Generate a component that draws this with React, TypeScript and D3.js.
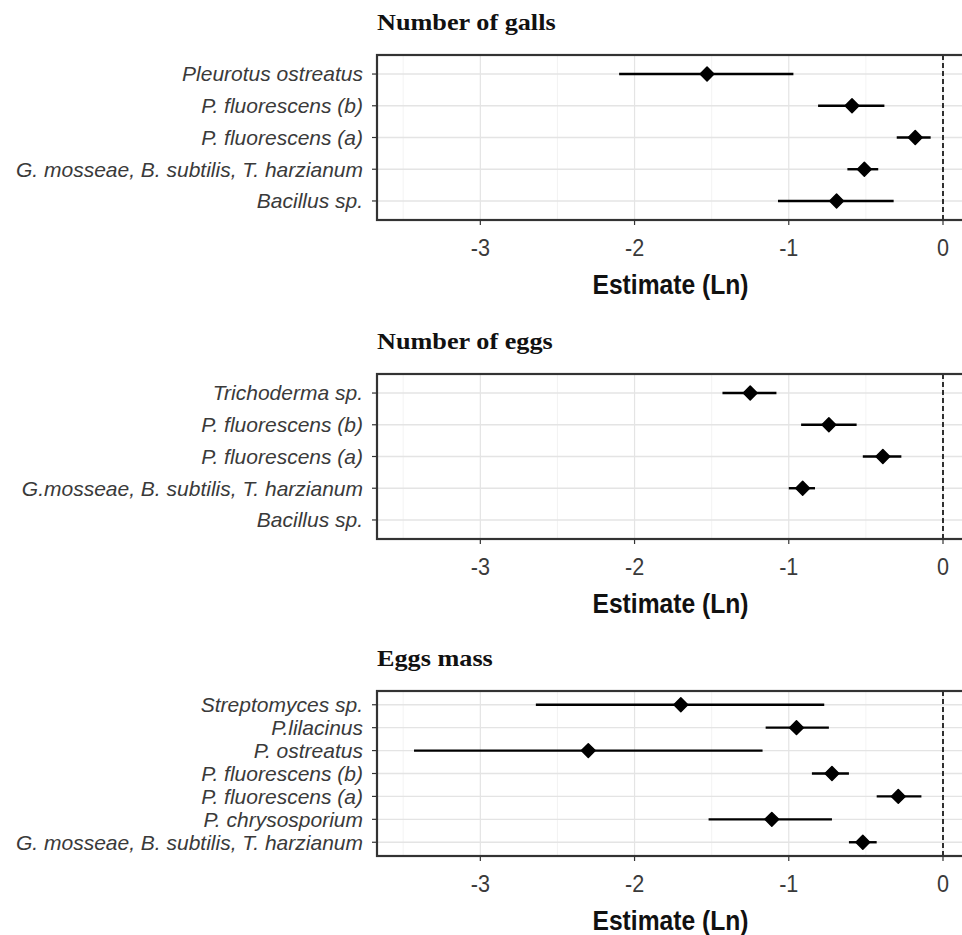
import * as d3 from 'd3';

// panel titles
const titles = ['Number of galls', 'Number of eggs', 'Eggs mass'];

// Number of galls
const gallsLabels = [
  'Pleurotus ostreatus',
  'P. fluorescens (b)',
  'P. fluorescens (a)',
  'G. mosseae, B. subtilis, T. harzianum',
  'Bacillus sp.',
];
const gallsEstimate = [-1.53, -0.59, -0.18, -0.51, -0.69];
const gallsLower = [-2.1, -0.81, -0.3, -0.62, -1.07];
const gallsUpper = [-0.97, -0.38, -0.08, -0.42, -0.32];

// Number of eggs (no estimate for Bacillus sp.)
const eggsLabels = [
  'Trichoderma sp.',
  'P. fluorescens (b)',
  'P. fluorescens (a)',
  'G.mosseae, B. subtilis, T. harzianum',
  'Bacillus sp.',
];
const eggsEstimate = [-1.25, -0.74, -0.39, -0.91, null];
const eggsLower = [-1.43, -0.92, -0.52, -1.0, null];
const eggsUpper = [-1.08, -0.56, -0.27, -0.83, null];

// Eggs mass
const massLabels = [
  'Streptomyces sp.',
  'P.lilacinus',
  'P. ostreatus',
  'P. fluorescens (b)',
  'P. fluorescens (a)',
  'P. chrysosporium',
  'G. mosseae, B. subtilis, T. harzianum',
];
const massEstimate = [-1.7, -0.95, -2.3, -0.72, -0.29, -1.11, -0.52];
const massLower = [-2.64, -1.15, -3.43, -0.85, -0.43, -1.52, -0.61];
const massUpper = [-0.77, -0.74, -1.17, -0.61, -0.14, -0.72, -0.43];

const xTicks = [-3, -2, -1, 0];
const xMinor = [-3.5, -2.5, -1.5, -0.5];
const xDomain = [-3.67, 0];

const W = 962;
const H = 935;
const left = 377;
const right = 964;
const zeroX = 943;
const panelH = 165;
const tops = [55, 374, 691];

const sans = 'Liberation Sans, Arial, sans-serif';
const serif = 'Liberation Serif, Times New Roman, serif';

type Panel = {
  labels: string[];
  est: (number | null)[];
  lo: (number | null)[];
  hi: (number | null)[];
};

const panels: Panel[] = [
  { labels: gallsLabels, est: gallsEstimate, lo: gallsLower, hi: gallsUpper },
  { labels: eggsLabels, est: eggsEstimate, lo: eggsLower, hi: eggsUpper },
  { labels: massLabels, est: massEstimate, lo: massLower, hi: massUpper },
];

const x = d3.scaleLinear().domain(xDomain).range([left, zeroX]);
const diamond = d3.symbol().type(d3.symbolSquare).size(95)();

// horizontal squeeze/stretch about an anchor x
const sx = (cx: number, k: number) => `translate(${cx},0) scale(${k},1) translate(${-cx},0)`;

function ForestPanel({ p, top, title }: { p: Panel; top: number; title: string }) {
  const bottom = top + panelH;
  const y = d3.scalePoint<string>().domain(p.labels).range([top, bottom]).padding(0.6);
  const rows = p.labels.map((l, i) => ({ label: l, est: p.est[i], lo: p.lo[i], hi: p.hi[i] }));
  const midX = (left + right) / 2;

  return (
    <g>
      <text
        x={left}
        y={top - 25}
        fontFamily={serif}
        fontWeight="bold"
        fontSize={23}
        fill="#111"
        transform={sx(left, 1.14)}
      >
        {title}
      </text>

      <rect x={left} y={top} width={right - left} height={panelH} fill="#fff" />

      {/* grid */}
      {xMinor.map((t) => (
        <line key={'m' + t} x1={x(t)} x2={x(t)} y1={top} y2={bottom} stroke="#f0f0f0" strokeWidth={0.8} />
      ))}
      {xTicks.map((t) => (
        <line key={'g' + t} x1={x(t)} x2={x(t)} y1={top} y2={bottom} stroke="#e4e4e4" strokeWidth={1.2} />
      ))}
      {p.labels.map((l) => (
        <line key={'h' + l} x1={left} x2={right} y1={y(l)} y2={y(l)} stroke="#e4e4e4" strokeWidth={1.4} />
      ))}

      {/* zero reference */}
      <line x1={x(0)} x2={x(0)} y1={top} y2={bottom} stroke="#000" strokeWidth={1.6} strokeDasharray="5,3" />

      {/* estimates */}
      {rows
        .filter((r) => r.est != null)
        .map((r) => (
          <g key={'r' + r.label}>
            <line
              x1={x(r.lo as number)}
              x2={x(r.hi as number)}
              y1={y(r.label)}
              y2={y(r.label)}
              stroke="#000"
              strokeWidth={2.4}
            />
            <path
              d={diamond as string}
              transform={`translate(${x(r.est as number)},${y(r.label)}) rotate(45)`}
              fill="#000"
              stroke="#000"
              strokeWidth={1.5}
              strokeLinejoin="round"
            />
          </g>
        ))}

      <rect x={left} y={top} width={right - left} height={panelH} fill="none" stroke="#333" strokeWidth={2.2} />

      {/* y axis */}
      {p.labels.map((l) => (
        <g key={'y' + l}>
          <line x1={left - 5} x2={left} y1={y(l)} y2={y(l)} stroke="#333" strokeWidth={1.2} />
          <text
            x={left - 14}
            y={y(l)}
            dy="0.35em"
            textAnchor="end"
            fontFamily={sans}
            fontStyle="italic"
            fontSize={21}
            fill="#3a3a3a"
          >
            {l}
          </text>
        </g>
      ))}

      {/* x axis */}
      {xTicks.map((t) => (
        <g key={'x' + t}>
          <line x1={x(t)} x2={x(t)} y1={bottom} y2={bottom + 5} stroke="#333" strokeWidth={1.2} />
          <text
            x={x(t)}
            y={bottom + 36}
            textAnchor="middle"
            fontFamily={sans}
            fontSize={24}
            fill="#3a3a3a"
            transform={sx(x(t), 0.9)}
          >
            {t}
          </text>
        </g>
      ))}
      <text
        x={midX}
        y={bottom + 74}
        textAnchor="middle"
        fontFamily={sans}
        fontWeight="bold"
        fontSize={28}
        fill="#111"
        transform={sx(midX, 0.88)}
      >
        Estimate (Ln)
      </text>
    </g>
  );
}

export default function App() {
  return (
    <svg
      width={W}
      height={H}
      style={{ position: 'absolute', left: 0, top: 0, background: '#fff' }}
    >
      <rect width={W} height={H} fill="#fff" />
      {panels.map((p, i) => (
        <ForestPanel key={titles[i]} p={p} top={tops[i]} title={titles[i]} />
      ))}
    </svg>
  );
}
